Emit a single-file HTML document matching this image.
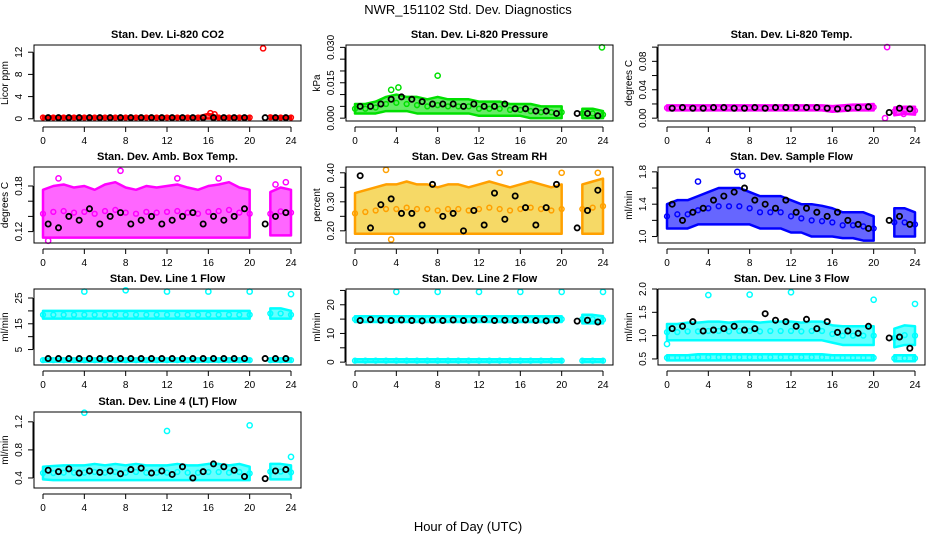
<!DOCTYPE html>
<html><head><meta charset="utf-8">
<style>
html,body{margin:0;padding:0;background:#fff;}
svg{display:block;font-family:"Liberation Sans",sans-serif;}
</style></head>
<body>
<svg id="chart" width="936" height="540" viewBox="0 0 936 540" xmlns="http://www.w3.org/2000/svg">
<text x="468" y="14" text-anchor="middle" font-size="13">NWR_151102  Std. Dev. Diagnostics</text>
<text x="468" y="531" text-anchor="middle" font-size="13">Hour of Day (UTC)</text>
</svg>
<script>
const hours = [0,1,2,3,4,5,6,7,8,9,10,11,12,13,14,15,16,17,18,19,20,21,22,23,24];
const blackHours = [0.5,1.5,2.5,3.5,4.5,5.5,6.5,7.5,8.5,9.5,10.5,11.5,12.5,13.5,14.5,15.5,16.5,17.5,18.5,19.5,20.5,21.5,22.5,23.5];
const xTicks = [0,4,8,12,16,20,24];

const co2Lo = [0.05,0.05,0.05,0.05,0.05,0.05,0.05,0.05,0.05,0.05,0.05,0.05,0.05,0.05,0.05,0.05,0.05,0.05,0.05,0.05,0.05,null,0.05,0.05,0.05];
const co2Hi = [0.4,0.4,0.4,0.4,0.4,0.4,0.4,0.4,0.4,0.4,0.4,0.4,0.4,0.4,0.4,0.4,0.9,0.4,0.4,0.4,0.4,null,0.5,0.4,0.4];
const co2Black = [0.2,0.2,0.2,0.2,0.2,0.2,0.2,0.2,0.2,0.2,0.2,0.2,0.2,0.2,0.2,0.2,0.2,0.2,0.2,0.2,null,0.2,0.2,0.2];
const co2OutX = [21.3,16.2,16.6];
const co2OutY = [12.7,1.0,0.8];
const co2Ticks = [0,4,8,12];

const presLo = [0.002,0.002,0.002,0.003,0.003,0.003,0.002,0.002,0.002,0.002,0.002,0.002,0.001,0.001,0.001,0.001,0.001,0.000,0.000,0.000,0.000,null,0.000,0.000,0.000];
const presHi = [0.006,0.006,0.007,0.009,0.010,0.009,0.009,0.008,0.009,0.008,0.008,0.008,0.007,0.007,0.007,0.006,0.006,0.006,0.005,0.005,0.005,null,0.004,0.004,0.003];
const presBlack = [0.005,0.005,0.006,0.008,0.009,0.008,0.007,0.006,0.006,0.006,0.005,0.006,0.005,0.005,0.006,0.004,0.004,0.003,0.003,0.002,null,0.002,0.002,0.001];
const presOutX = [3.5,4.2,8,23.9];
const presOutY = [0.012,0.013,0.018,0.030];
const presTicks = [0,0.005,0.010,0.015,0.020,0.025,0.030];

const tempLo = [0.011,0.011,0.011,0.011,0.011,0.011,0.011,0.011,0.011,0.011,0.011,0.011,0.011,0.011,0.011,0.011,0.009,0.010,0.011,0.011,0.011,null,0.004,0.006,0.005];
const tempHi = [0.018,0.018,0.018,0.018,0.018,0.018,0.018,0.018,0.018,0.018,0.018,0.018,0.018,0.018,0.018,0.018,0.017,0.018,0.019,0.019,0.020,null,0.015,0.016,0.016];
const tempBlack = [0.014,0.015,0.014,0.014,0.015,0.015,0.014,0.014,0.015,0.014,0.015,0.015,0.015,0.015,0.015,0.014,0.013,0.014,0.015,0.016,null,0.008,0.014,0.013];
const tempOutX = [21.3,21.1,22.9];
const tempOutY = [0.1,0.0,0.006];
const tempTicks = [0,0.02,0.04,0.06,0.08,0.10];

const ambLo = [0.112,0.112,0.112,0.112,0.112,0.112,0.112,0.112,0.112,0.112,0.112,0.112,0.112,0.112,0.112,0.112,0.112,0.112,0.112,0.112,0.112,null,0.115,0.115,0.115];
const ambHi = [0.175,0.18,0.182,0.178,0.18,0.175,0.182,0.185,0.178,0.175,0.18,0.178,0.18,0.182,0.178,0.175,0.18,0.182,0.185,0.178,0.175,null,0.172,0.178,0.175];
const ambBlack = [0.13,0.125,0.14,0.135,0.15,0.13,0.14,0.145,0.13,0.135,0.14,0.13,0.135,0.14,0.145,0.13,0.14,0.135,0.14,0.15,null,0.13,0.14,0.145];
const ambOutX = [1.5,7.5,13,17,22.5,23.5,0.5];
const ambOutY = [0.19,0.2,0.19,0.19,0.182,0.185,0.108];
const ambTicks = [0.12,0.14,0.16,0.18];

const rhLo = [0.19,0.19,0.19,0.19,0.19,0.19,0.19,0.19,0.19,0.19,0.19,0.19,0.19,0.19,0.19,0.19,0.19,0.19,0.19,0.19,0.19,null,0.19,0.19,0.19];
const rhHi = [0.33,0.34,0.35,0.36,0.36,0.37,0.36,0.36,0.35,0.36,0.36,0.35,0.36,0.37,0.36,0.35,0.36,0.37,0.36,0.35,0.36,null,0.36,0.37,0.38];
const rhBlack = [0.39,0.21,0.29,0.31,0.26,0.26,0.22,0.36,0.25,0.26,0.20,0.27,0.22,0.33,0.24,0.32,0.28,0.22,0.28,0.36,null,0.21,0.27,0.34];
const rhOutX = [3,14,20,23.5,3.5];
const rhOutY = [0.41,0.40,0.40,0.40,0.17];
const rhTicks = [0.20,0.25,0.30,0.35,0.40];

const flowLo = [1.10,1.10,1.10,1.15,1.15,1.15,1.15,1.15,1.15,1.10,1.10,1.10,1.05,1.05,1.00,1.00,1.00,0.98,0.98,0.95,0.95,null,1.00,1.00,1.00];
const flowHi = [1.40,1.45,1.45,1.50,1.55,1.60,1.60,1.60,1.55,1.50,1.50,1.50,1.45,1.40,1.40,1.38,1.35,1.30,1.30,1.30,1.25,null,1.35,1.35,1.30];
const flowBlack = [1.40,1.20,1.30,1.35,1.45,1.50,1.55,1.60,1.45,1.40,1.35,1.45,1.30,1.35,1.30,1.25,1.30,1.20,1.15,1.10,null,1.20,1.25,1.15];
const flowOutX = [6.8,7.3,3];
const flowOutY = [1.8,1.75,1.68];
const flowTicks = [1.0,1.2,1.4,1.6,1.8];

const l1UpLo = [17,17,17,17,17,17,17,17,17,17,17,17,17,17,17,17,17,17,17,17,17,null,17,17,17];
const l1UpHi = [20,20,20,20,20,20,20,20,20,20,20,20,20,20,20,20,20,20,20,20,20,null,21,21,20];
const l1DnLo = [0.3,0.3,0.3,0.3,0.3,0.3,0.3,0.3,0.3,0.3,0.3,0.3,0.3,0.3,0.3,0.3,0.3,0.3,0.3,0.3,0.3,null,0.3,0.3,0.3];
const l1DnHi = [1.5,1.5,1.5,1.5,1.5,1.5,1.5,1.5,1.5,1.5,1.5,1.5,1.5,1.5,1.5,1.5,1.5,1.5,1.5,1.5,1.5,null,1.5,1.5,1.5];
const l1Black = [1.5,1.5,1.5,1.5,1.5,1.5,1.5,1.5,1.5,1.5,1.5,1.5,1.5,1.5,1.5,1.5,1.5,1.5,1.5,1.5,null,1.5,1.5,1.5];
const l1OutX = [4,8,12,16,20,24];
const l1OutY = [27.5,28,27.5,27.5,27.5,26.5];
const l1Ticks = [5,10,15,20,25];

const l2UpLo = [14,14,14,14,14,14,14,14,14,14,14,14,14,14,14,14,14,14,14,14,14,null,13.5,13.5,13.5];
const l2UpHi = [16,16,16,16,16,16,16,16,16,16,16,16,16,16,16,16,16,16,16,16,16,null,16.5,16.5,16];
const l2DnLo = [0,0,0,0,0,0,0,0,0,0,0,0,0,0,0,0,0,0,0,0,0,null,0,0,0];
const l2DnHi = [1,1,1,1,1,1,1,1,1,1,1,1,1,1,1,1,1,1,1,1,1,null,1,1,1];
const l2Black = [14.5,14.8,14.6,14.5,14.7,14.5,14.4,14.6,14.5,14.7,14.5,14.6,14.8,14.5,14.6,14.5,14.7,14.5,14.4,14.6,null,14.3,14.6,14];
const l2OutX = [4,8,12,16,20,24];
const l2OutY = [24.5,24.5,24.5,24.5,24.5,24.5];
const l2Ticks = [0,5,10,15,20,25];

const l3UpLo = [0.9,0.9,0.9,0.9,0.9,0.9,0.9,0.9,0.9,0.9,0.9,0.9,0.9,0.9,0.9,0.9,0.85,0.8,0.8,0.8,0.8,null,0.75,0.8,0.8];
const l3UpHi = [1.25,1.25,1.28,1.28,1.3,1.3,1.28,1.3,1.3,1.28,1.3,1.3,1.3,1.28,1.3,1.3,1.22,1.2,1.2,1.2,1.2,null,1.15,1.22,1.2];
const l3DnLo = [0.47,0.47,0.47,0.47,0.47,0.47,0.47,0.47,0.47,0.47,0.47,0.47,0.47,0.47,0.47,0.47,0.47,0.47,0.47,0.47,0.47,null,0.45,0.45,0.45];
const l3DnHi = [0.58,0.58,0.58,0.6,0.6,0.6,0.6,0.6,0.6,0.6,0.6,0.6,0.6,0.6,0.6,0.6,0.58,0.58,0.58,0.58,0.58,null,0.58,0.58,0.58];
const l3Black = [1.15,1.2,1.3,1.1,1.12,1.15,1.2,1.12,1.15,1.47,1.33,1.3,1.2,1.35,1.15,1.3,1.07,1.1,1.05,1.2,null,0.95,0.97,0.73];
const l3OutX = [4,8,12,20,24,0];
const l3OutY = [1.87,1.88,1.93,1.77,1.68,0.82];
const l3Ticks = [0.5,1.0,1.5,2.0];

const l4Lo = [0.38,0.37,0.37,0.37,0.37,0.37,0.37,0.37,0.37,0.37,0.37,0.37,0.37,0.37,0.37,0.37,0.37,0.37,0.37,0.37,0.37,null,0.38,0.38,0.38];
const l4Hi = [0.56,0.57,0.58,0.58,0.58,0.6,0.58,0.6,0.58,0.6,0.58,0.58,0.58,0.6,0.58,0.58,0.6,0.6,0.58,0.6,0.56,null,0.6,0.6,0.58];
const l4Black = [0.51,0.49,0.53,0.47,0.5,0.48,0.5,0.46,0.52,0.54,0.47,0.5,0.45,0.56,0.4,0.49,0.6,0.56,0.51,0.42,null,0.39,0.5,0.52];
const l4OutX = [4,12,20,24];
const l4OutY = [1.33,1.07,1.15,0.7];
const l4Ticks = [0.4,0.8,1.2];

const NS = "http://www.w3.org/2000/svg";
const svg = document.getElementById('chart');
function mk(tag, attrs, parent){
  const e = document.createElementNS(NS, tag);
  for (const k in attrs) e.setAttribute(k, attrs[k]);
  (parent||svg).appendChild(e);
  return e;
}
const colLefts = [34,346,658];
const rowTops = [45,167,289,412];
const W = 267, H = 76;

function panel(cfg){
  const L = colLefts[cfg.col], T = rowTops[cfg.row];
  const g = mk('g', {});
  
  
  const xs = h => L + 9 + h/24*248;
  const ys = v => T + H - (v - cfg.ymin)/(cfg.ymax - cfg.ymin)*H;
  cfg.bands.forEach(b => {
    let seg = [];
    const segs = [];
    hours.forEach((h,i) => {
      if (b.lo[i] === null) { if (seg.length) segs.push(seg); seg = []; }
      else seg.push(i);
    });
    if (seg.length) segs.push(seg);
    segs.forEach(s => {
      let pts = s.map(i => xs(hours[i]) + ',' + ys(b.hi[i]));
      pts = pts.concat(s.slice().reverse().map(i => xs(hours[i]) + ',' + ys(b.lo[i])));
      const p = mk('polygon', {points: pts.join(' '), fill: cfg.fill, 'fill-opacity': 0.6, stroke: cfg.color, 'stroke-width': 2.5, 'stroke-linejoin': 'round'}, g);
      
      
      s.forEach(i => {
        const c = mk('circle', {cx: xs(hours[i]), cy: ys((b.lo[i]+b.hi[i])/2), r: 2.4, fill: 'none', stroke: cfg.color, 'stroke-width': 1.5}, g);
        
        
      });
    });
  });
  cfg.outX.forEach((x,i) => {
    const c = mk('circle', {cx: xs(x), cy: ys(cfg.outY[i]), r: 2.6, fill: 'none', stroke: cfg.color, 'stroke-width': 1.5}, g);
    
    
  });
  cfg.black.forEach((v,i) => {
    if (v === null) return;
    const c = mk('circle', {cx: xs(blackHours[i]), cy: ys(v), r: 2.6, fill: 'none', stroke: '#000', 'stroke-width': 1.8}, g);
    
    
  });
  const box = mk('rect', {x: L, y: T, width: W, height: H, fill: 'none', stroke: '#000', 'stroke-width': 1}, g);
  
  
  const ax = T + H + 6;
  mk('line', {x1: xs(0), x2: xs(24), y1: ax, y2: ax, stroke: '#000'}, g);
  xTicks.forEach(t => {
    mk('line', {x1: xs(t), x2: xs(t), y1: ax, y2: ax+5, stroke: '#000'}, g);
    const tx = mk('text', {x: xs(t), y: ax+17, 'text-anchor': 'middle', 'font-size': 10}, g);
    tx.textContent = t;
    
    
  });
  const yl = cfg.yTicks;
  mk('line', {x1: L-1, x2: L-1, y1: ys(yl[0]), y2: ys(yl[yl.length-1]), stroke: '#000'}, g);
  yl.forEach((t,i) => {
    mk('line', {x1: L-6, x2: L-1, y1: ys(t), y2: ys(t), stroke: '#000'}, g);
    if (cfg.labelEvery && i % cfg.labelEvery) return;
    const yy = ys(t);
    const tx = mk('text', {x: L-12, y: yy, 'text-anchor': 'middle', 'font-size': 10, transform: `rotate(-90 ${L-12} ${yy})`}, g);
    tx.textContent = t.toFixed(cfg.dec);
    
    
  });
  const ylab = mk('text', {x: L-26, y: T+H/2, 'text-anchor': 'middle', 'font-size': 10, transform: `rotate(-90 ${L-26} ${T+H/2})`}, g);
  ylab.textContent = cfg.ylab;
  
  
  const title = mk('text', {x: L+W/2, y: T-7, 'text-anchor': 'middle', 'font-size': 11, 'font-weight': 'bold'}, g);
  title.textContent = cfg.title;
  
  
}

panel({name:'panel-co2', row:0, col:0, title:'Stan. Dev. Li-820 CO2', ylab:'Licor ppm', ymin:-0.4, ymax:13.3, yTicks:co2Ticks, dec:0, color:'#ff0000', fill:'#ff0000', bands:[{lo:co2Lo, hi:co2Hi}], black:co2Black, outX:co2OutX, outY:co2OutY});
panel({name:'panel-pressure', row:0, col:1, title:'Stan. Dev. Li-820 Pressure', ylab:'kPa', ymin:-0.0012, ymax:0.031, yTicks:presTicks, dec:3, labelEvery:3, color:'#00e000', fill:'#00e000', bands:[{lo:presLo, hi:presHi}], black:presBlack, outX:presOutX, outY:presOutY});
panel({name:'panel-temp', row:0, col:2, title:'Stan. Dev. Li-820 Temp.', ylab:'degrees C', ymin:-0.004, ymax:0.103, yTicks:tempTicks, dec:2, labelEvery:2, color:'#ff00ff', fill:'#ff00ff', bands:[{lo:tempLo, hi:tempHi}], black:tempBlack, outX:tempOutX, outY:tempOutY});
panel({name:'panel-amb-box', row:1, col:0, title:'Stan. Dev. Amb. Box Temp.', ylab:'degrees C', ymin:0.105, ymax:0.205, yTicks:ambTicks, dec:2, labelEvery:3, color:'#ff00ff', fill:'#ff00ff', bands:[{lo:ambLo, hi:ambHi}], black:ambBlack, outX:ambOutX, outY:ambOutY});
panel({name:'panel-rh', row:1, col:1, title:'Stan. Dev. Gas Stream RH', ylab:'percent', ymin:0.158, ymax:0.42, yTicks:rhTicks, dec:2, labelEvery:2, color:'#ffa000', fill:'#f0c000', bands:[{lo:rhLo, hi:rhHi}], black:rhBlack, outX:rhOutX, outY:rhOutY});
panel({name:'panel-sample-flow', row:1, col:2, title:'Stan. Dev. Sample Flow', ylab:'ml/min', ymin:0.92, ymax:1.86, yTicks:flowTicks, dec:1, labelEvery:2, color:'#0000ff', fill:'#0000ff', bands:[{lo:flowLo, hi:flowHi}], black:flowBlack, outX:flowOutX, outY:flowOutY});
panel({name:'panel-line1', row:2, col:0, title:'Stan. Dev. Line 1 Flow', ylab:'ml/min', ymin:-1, ymax:28.5, yTicks:l1Ticks, dec:0, labelEvery:2, color:'#00ffff', fill:'#00ffff', bands:[{lo:l1UpLo, hi:l1UpHi},{lo:l1DnLo, hi:l1DnHi}], black:l1Black, outX:l1OutX, outY:l1OutY});
panel({name:'panel-line2', row:2, col:1, title:'Stan. Dev. Line 2 Flow', ylab:'ml/min', ymin:-1, ymax:25.5, yTicks:l2Ticks, dec:0, labelEvery:2, color:'#00ffff', fill:'#00ffff', bands:[{lo:l2UpLo, hi:l2UpHi},{lo:l2DnLo, hi:l2DnHi}], black:l2Black, outX:l2OutX, outY:l2OutY});
panel({name:'panel-line3', row:2, col:2, title:'Stan. Dev. Line 3 Flow', ylab:'ml/min', ymin:0.37, ymax:2.0, yTicks:l3Ticks, dec:1, color:'#00ffff', fill:'#00ffff', bands:[{lo:l3UpLo, hi:l3UpHi},{lo:l3DnLo, hi:l3DnHi}], black:l3Black, outX:l3OutX, outY:l3OutY});
panel({name:'panel-line4', row:3, col:0, title:'Stan. Dev. Line 4 (LT) Flow', ylab:'ml/min', ymin:0.257, ymax:1.34, yTicks:l4Ticks, dec:1, color:'#00ffff', fill:'#00ffff', bands:[{lo:l4Lo, hi:l4Hi}], black:l4Black, outX:l4OutX, outY:l4OutY});
</script>
</body></html>
